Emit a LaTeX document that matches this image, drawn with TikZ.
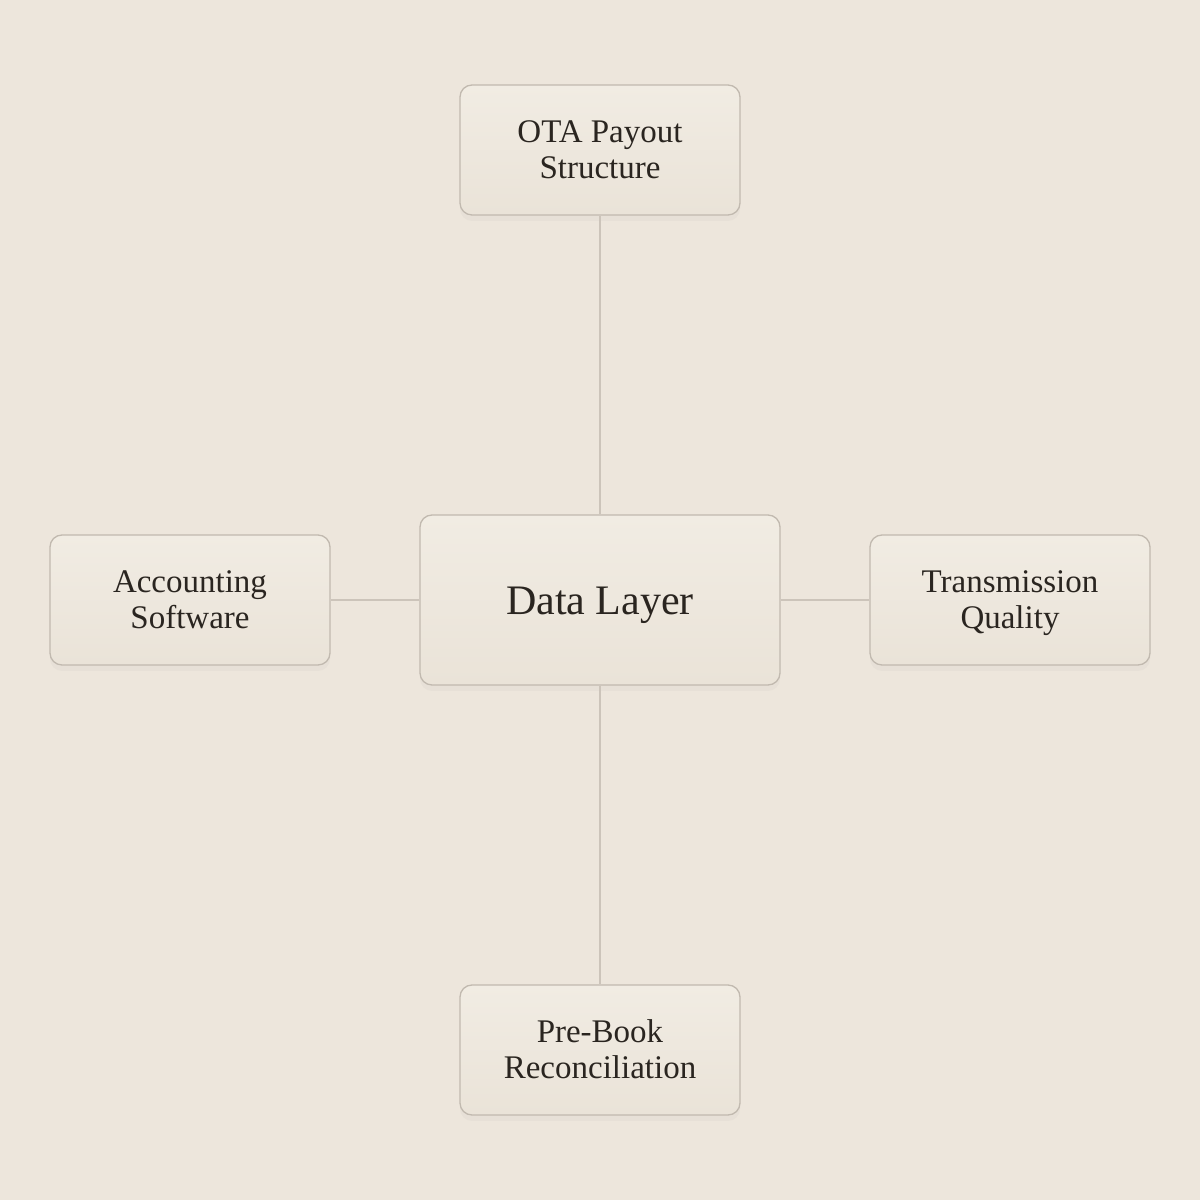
\documentclass[tikz,border=0pt]{standalone}
\usepackage{fontspec}
\setmainfont{Liberation Serif}
\usetikzlibrary{shadows}
\definecolor{bg}{HTML}{EDE6DC}
\definecolor{boxtop}{HTML}{F1ECE3}
\definecolor{boxbot}{HTML}{EAE3D8}
\definecolor{boxline}{HTML}{C1B9AF}
\definecolor{wire}{HTML}{CCC4BA}
\definecolor{ink}{HTML}{2A2520}
\tikzset{
  box/.style={draw=boxline, line width=1.3pt, rounded corners=12pt,
    top color=boxtop, bottom color=boxbot, text=ink, align=center,
    minimum width=280pt, minimum height=130pt, inner sep=0pt,
    text height=62pt, text depth=4pt,
    font=\fontsize{33}{36}\selectfont,
    drop shadow={opacity=0.05, shadow xshift=0pt, shadow yshift=-6pt}},
  hub/.style={box, minimum width=360pt, minimum height=170pt,
    text height=34pt, text depth=4pt,
    font=\fontsize{42}{48}\selectfont}
}
\begin{document}
\begin{tikzpicture}[x=1pt,y=1pt]
      \fill[bg] (0,0) rectangle (1200,1200);
      \useasboundingbox (0,0) rectangle (1200,1200);
      \draw
        (600,600) node[hub] (data){Data Layer}
        (600,1050) node[box] (ota){OTA Payout\\Structure}
        (190,600) node[box] (acct){Accounting\\Software}
        (1010,600) node[box] (trans){Transmission\\Quality}
        (600,150) node[box] (prebook){Pre-Book\\Reconciliation};
      \begin{scope}[-, draw=wire, line width=1.3pt]
        \draw (data) to (ota);
        \draw (data) to (acct);
        \draw (data) to (trans);
        \draw (data) to (prebook);
      \end{scope}
    \end{tikzpicture}
\end{document}
